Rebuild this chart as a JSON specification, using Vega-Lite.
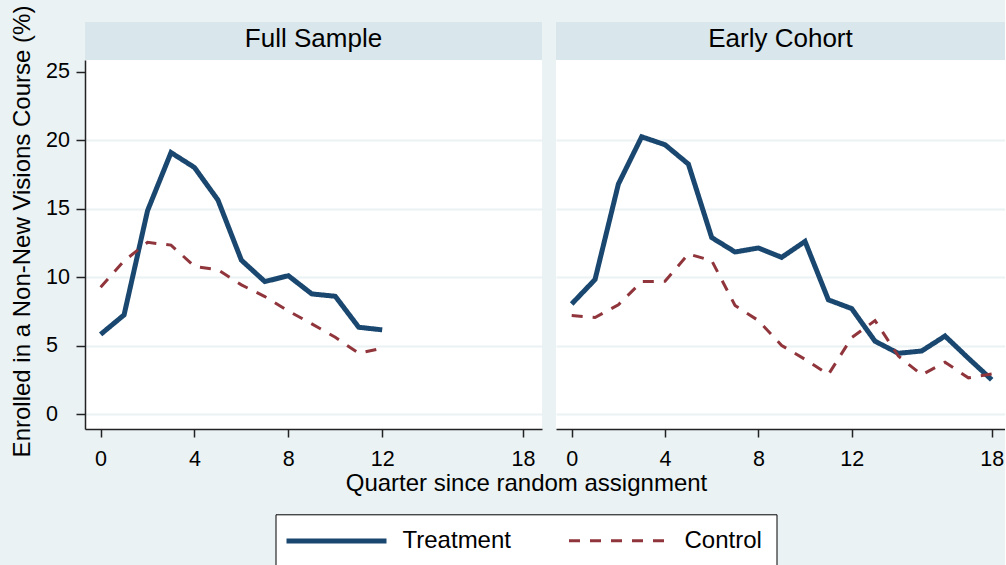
{
  "$schema": "https://vega.github.io/schema/vega-lite/v6.json",
  "background": "#EAF2F3",
  "padding": {"left": 9, "top": 5, "right": 0, "bottom": 0},
  "bounds": "flush",
  "columns": 2,
  "spacing": {"row": 0, "column": 14},
  "config": {
    "font": "Liberation Sans",
    "view": {"stroke": null},
    "axis": {
      "labelFont": "Liberation Sans",
      "titleFont": "Liberation Sans",
      "labelColor": "#000000",
      "titleColor": "#000000",
      "labelFontSize": 21.5,
      "titleFontSize": 24,
      "titleFontWeight": "normal",
      "domainColor": "#222222",
      "domainWidth": 1.5,
      "tickColor": "#222222",
      "tickWidth": 1.5,
      "gridColor": "#EAF2F3",
      "gridWidth": 2.2
    },
    "legend": {
      "labelFont": "Liberation Sans"
    }
  },
  "datasets": {
    "series": [
      {"panel": "Full Sample", "series": "Treatment", "q": 0, "v": 5.84},
      {"panel": "Full Sample", "series": "Treatment", "q": 1, "v": 7.26},
      {"panel": "Full Sample", "series": "Treatment", "q": 2, "v": 14.86},
      {"panel": "Full Sample", "series": "Treatment", "q": 3, "v": 19.1},
      {"panel": "Full Sample", "series": "Treatment", "q": 4, "v": 18.01},
      {"panel": "Full Sample", "series": "Treatment", "q": 5, "v": 15.64},
      {"panel": "Full Sample", "series": "Treatment", "q": 6, "v": 11.25},
      {"panel": "Full Sample", "series": "Treatment", "q": 7, "v": 9.69},
      {"panel": "Full Sample", "series": "Treatment", "q": 8, "v": 10.12},
      {"panel": "Full Sample", "series": "Treatment", "q": 9, "v": 8.79},
      {"panel": "Full Sample", "series": "Treatment", "q": 10, "v": 8.62},
      {"panel": "Full Sample", "series": "Treatment", "q": 11, "v": 6.36},
      {"panel": "Full Sample", "series": "Treatment", "q": 12, "v": 6.17},
      {"panel": "Full Sample", "series": "Control", "q": 0, "v": 9.28},
      {"panel": "Full Sample", "series": "Control", "q": 1, "v": 11.2},
      {"panel": "Full Sample", "series": "Control", "q": 2, "v": 12.55},
      {"panel": "Full Sample", "series": "Control", "q": 3, "v": 12.35},
      {"panel": "Full Sample", "series": "Control", "q": 4, "v": 10.8},
      {"panel": "Full Sample", "series": "Control", "q": 5, "v": 10.55},
      {"panel": "Full Sample", "series": "Control", "q": 6, "v": 9.45},
      {"panel": "Full Sample", "series": "Control", "q": 7, "v": 8.6},
      {"panel": "Full Sample", "series": "Control", "q": 8, "v": 7.55},
      {"panel": "Full Sample", "series": "Control", "q": 9, "v": 6.61},
      {"panel": "Full Sample", "series": "Control", "q": 10, "v": 5.63},
      {"panel": "Full Sample", "series": "Control", "q": 11, "v": 4.46},
      {"panel": "Full Sample", "series": "Control", "q": 12, "v": 4.83},
      {"panel": "Early Cohort", "series": "Treatment", "q": 0, "v": 8.06},
      {"panel": "Early Cohort", "series": "Treatment", "q": 1, "v": 9.84},
      {"panel": "Early Cohort", "series": "Treatment", "q": 2, "v": 16.8},
      {"panel": "Early Cohort", "series": "Treatment", "q": 3, "v": 20.25},
      {"panel": "Early Cohort", "series": "Treatment", "q": 4, "v": 19.67},
      {"panel": "Early Cohort", "series": "Treatment", "q": 5, "v": 18.26},
      {"panel": "Early Cohort", "series": "Treatment", "q": 6, "v": 12.9},
      {"panel": "Early Cohort", "series": "Treatment", "q": 7, "v": 11.85},
      {"panel": "Early Cohort", "series": "Treatment", "q": 8, "v": 12.14},
      {"panel": "Early Cohort", "series": "Treatment", "q": 9, "v": 11.46},
      {"panel": "Early Cohort", "series": "Treatment", "q": 10, "v": 12.62},
      {"panel": "Early Cohort", "series": "Treatment", "q": 11, "v": 8.36},
      {"panel": "Early Cohort", "series": "Treatment", "q": 12, "v": 7.72},
      {"panel": "Early Cohort", "series": "Treatment", "q": 13, "v": 5.34},
      {"panel": "Early Cohort", "series": "Treatment", "q": 14, "v": 4.46},
      {"panel": "Early Cohort", "series": "Treatment", "q": 15, "v": 4.63},
      {"panel": "Early Cohort", "series": "Treatment", "q": 16, "v": 5.72},
      {"panel": "Early Cohort", "series": "Treatment", "q": 17, "v": 4.1},
      {"panel": "Early Cohort", "series": "Treatment", "q": 18, "v": 2.53},
      {"panel": "Early Cohort", "series": "Control", "q": 0, "v": 7.21},
      {"panel": "Early Cohort", "series": "Control", "q": 1, "v": 7.07},
      {"panel": "Early Cohort", "series": "Control", "q": 2, "v": 8.0},
      {"panel": "Early Cohort", "series": "Control", "q": 3, "v": 9.69},
      {"panel": "Early Cohort", "series": "Control", "q": 4, "v": 9.72},
      {"panel": "Early Cohort", "series": "Control", "q": 5, "v": 11.7},
      {"panel": "Early Cohort", "series": "Control", "q": 6, "v": 11.22},
      {"panel": "Early Cohort", "series": "Control", "q": 7, "v": 7.95},
      {"panel": "Early Cohort", "series": "Control", "q": 8, "v": 6.85},
      {"panel": "Early Cohort", "series": "Control", "q": 9, "v": 5.03},
      {"panel": "Early Cohort", "series": "Control", "q": 10, "v": 4.02},
      {"panel": "Early Cohort", "series": "Control", "q": 11, "v": 2.91},
      {"panel": "Early Cohort", "series": "Control", "q": 12, "v": 5.6},
      {"panel": "Early Cohort", "series": "Control", "q": 13, "v": 6.85},
      {"panel": "Early Cohort", "series": "Control", "q": 14, "v": 4.26},
      {"panel": "Early Cohort", "series": "Control", "q": 15, "v": 2.89},
      {"panel": "Early Cohort", "series": "Control", "q": 16, "v": 3.81},
      {"panel": "Early Cohort", "series": "Control", "q": 17, "v": 2.67},
      {"panel": "Early Cohort", "series": "Control", "q": 18, "v": 2.95}
    ]
  },
  "concat": [
    {
      "width": 457,
      "height": 38,
      "view": {"fill": "#D9E6EB", "stroke": null},
      "data": {"values": [{"label": "Full Sample"}]},
      "mark": {"type": "text", "fontSize": 26, "baseline": "alphabetic", "dy": 6, "color": "#000000"},
      "encoding": {"text": {"field": "label"}}
    },
    {
      "width": 449,
      "height": 38,
      "view": {"fill": "#D9E6EB", "stroke": null},
      "data": {"values": [{"label": "Early Cohort"}]},
      "mark": {"type": "text", "fontSize": 26, "baseline": "alphabetic", "dy": 6, "color": "#000000"},
      "encoding": {"text": {"field": "label"}}
    },
    {
      "width": 457,
      "height": 369,
      "view": {"fill": "#FFFFFF", "stroke": null},
      "data": {"name": "series"},
      "transform": [{"filter": "datum.panel === 'Full Sample'"}],
      "mark": {"type": "line", "strokeJoin": "miter"},
      "encoding": {
        "x": {
          "field": "q", "type": "quantitative",
          "scale": {"domain": [-0.665, 18.81], "nice": false, "zero": false},
          "axis": {
            "values": [0, 4, 8, 12, 18], "grid": false, "tickSize": 8, "labelPadding": 11,
            "title": "Quarter since random assignment",
            "titleX": 441, "titleY": 61, "titleAlign": "center", "titleBaseline": "alphabetic", "titleAnchor": null
          }
        },
        "y": {
          "field": "v", "type": "quantitative",
          "scale": {"domain": [-1.06, 25.85], "nice": false, "zero": false},
          "axis": {
            "values": [0, 5, 10, 15, 20, 25], "grid": true, "tickSize": 9,
            "labelAlign": "left", "labelPadding": 30.5, "labelBaseline": "middle",
            "gridOpacity": {"condition": {"test": "datum.value === 25", "value": 0}, "value": 1},
            "title": "Enrolled in a Non-New Visions Course (%)",
            "titleX": -56, "titleY": 171, "titleAlign": "center", "titleBaseline": "alphabetic", "titleAngle": 270
          }
        },
        "color": {
          "field": "series", "type": "nominal",
          "scale": {"domain": ["Treatment", "Control"], "range": ["#1A476F", "#90353B"]},
          "legend": {"title": null, "orient": "none", "legendX": 190.5, "legendY": 492.3, "direction": "horizontal",
            "fillColor": "#FFFFFF", "strokeColor": "#000000", "padding": 14, "columnPadding": 51,
            "symbolType": "M-5,0H5", "symbolSize": 400, "symbolOffset": 34.5, "labelOffset": 53.5,
            "labelFontSize": 24, "labelColor": "#000000", "labelFont": "Liberation Sans"}
        },
        "strokeDash": {
          "field": "series", "type": "nominal",
          "scale": {"domain": ["Treatment", "Control"], "range": [[1, 0], [11, 10]]},
          "legend": {"title": null, "orient": "none", "legendX": 190.5, "legendY": 492.3, "direction": "horizontal",
            "fillColor": "#FFFFFF", "strokeColor": "#000000", "padding": 14, "columnPadding": 51,
            "symbolType": "M-5,0H5", "symbolSize": 400, "symbolOffset": 34.5, "labelOffset": 53.5,
            "labelFontSize": 24, "labelColor": "#000000", "labelFont": "Liberation Sans"}
        },
        "strokeWidth": {
          "field": "series", "type": "nominal",
          "scale": {"domain": ["Treatment", "Control"], "range": [5, 3]},
          "legend": {"title": null, "orient": "none", "legendX": 190.5, "legendY": 492.3, "direction": "horizontal",
            "fillColor": "#FFFFFF", "strokeColor": "#000000", "padding": 14, "columnPadding": 51,
            "symbolType": "M-5,0H5", "symbolSize": 400, "symbolOffset": 34.5, "labelOffset": 53.5,
            "labelFontSize": 24, "labelColor": "#000000", "labelFont": "Liberation Sans"}
        }
      }
    },
    {
      "width": 449,
      "height": 369,
      "view": {"fill": "#FFFFFF", "stroke": null},
      "data": {"name": "series"},
      "transform": [{"filter": "datum.panel === 'Early Cohort'"}],
      "mark": {"type": "line", "strokeJoin": "miter"},
      "encoding": {
        "x": {
          "field": "q", "type": "quantitative",
          "scale": {"domain": [-0.673, 18.57], "nice": false, "zero": false},
          "axis": {"values": [0, 4, 8, 12, 18], "grid": false, "tickSize": 8, "labelPadding": 11, "title": null}
        },
        "y": {
          "field": "v", "type": "quantitative",
          "scale": {"domain": [-1.06, 25.85], "nice": false, "zero": false},
          "axis": {
            "values": [0, 5, 10, 15, 20, 25], "grid": true, "labels": false, "ticks": false, "domain": false, "title": null,
            "gridOpacity": {"condition": {"test": "datum.value === 25", "value": 0}, "value": 1}
          }
        },
        "color": {
          "field": "series", "type": "nominal",
          "scale": {"domain": ["Treatment", "Control"], "range": ["#1A476F", "#90353B"]},
          "legend": {"title": null, "orient": "none", "legendX": 190.5, "legendY": 492.3, "direction": "horizontal",
            "fillColor": "#FFFFFF", "strokeColor": "#000000", "padding": 14, "columnPadding": 51,
            "symbolType": "M-5,0H5", "symbolSize": 400, "symbolOffset": 34.5, "labelOffset": 53.5,
            "labelFontSize": 24, "labelColor": "#000000", "labelFont": "Liberation Sans"}
        },
        "strokeDash": {
          "field": "series", "type": "nominal",
          "scale": {"domain": ["Treatment", "Control"], "range": [[1, 0], [11, 10]]},
          "legend": {"title": null, "orient": "none", "legendX": 190.5, "legendY": 492.3, "direction": "horizontal",
            "fillColor": "#FFFFFF", "strokeColor": "#000000", "padding": 14, "columnPadding": 51,
            "symbolType": "M-5,0H5", "symbolSize": 400, "symbolOffset": 34.5, "labelOffset": 53.5,
            "labelFontSize": 24, "labelColor": "#000000", "labelFont": "Liberation Sans"}
        },
        "strokeWidth": {
          "field": "series", "type": "nominal",
          "scale": {"domain": ["Treatment", "Control"], "range": [5, 3]},
          "legend": {"title": null, "orient": "none", "legendX": 190.5, "legendY": 492.3, "direction": "horizontal",
            "fillColor": "#FFFFFF", "strokeColor": "#000000", "padding": 14, "columnPadding": 51,
            "symbolType": "M-5,0H5", "symbolSize": 400, "symbolOffset": 34.5, "labelOffset": 53.5,
            "labelFontSize": 24, "labelColor": "#000000", "labelFont": "Liberation Sans"}
        }
      }
    }
  ]
}
